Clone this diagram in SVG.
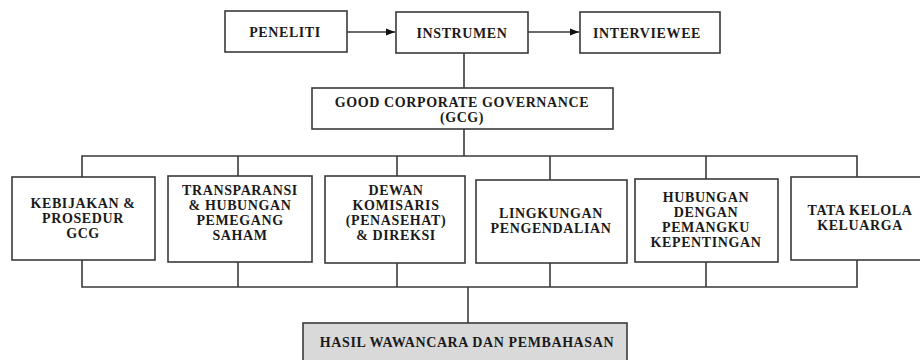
<svg xmlns="http://www.w3.org/2000/svg" width="920" height="360" viewBox="0 0 920 360">
<defs>
<style>
.box{fill:#fff;stroke:#3a3a3a;stroke-width:1.6}
.gray{fill:#d9d9d9}
.ln{fill:none;stroke:#3a3a3a;stroke-width:1.6}
text{font-family:'Liberation Serif','Times New Roman',serif;font-weight:bold;font-size:14px;fill:#1a1a1a;text-anchor:middle;letter-spacing:0.6px}
</style>
<marker id="arr" viewBox="0 0 10 10" refX="10" refY="5" markerWidth="9" markerHeight="9" markerUnits="userSpaceOnUse" orient="auto">
<path d="M0,1 L10,5 L0,9 Z" fill="#111"/>
</marker>
</defs>
<rect width="920" height="360" fill="#fff"/>
<g id="connectors">
<line class="ln" x1="347" y1="32" x2="395" y2="32" marker-end="url(#arr)"/>
<line class="ln" x1="528" y1="32" x2="579" y2="32" marker-end="url(#arr)"/>
<line class="ln" x1="464" y1="53" x2="464" y2="88"/>
<line class="ln" x1="464" y1="129" x2="464" y2="156"/>
<polyline class="ln" points="82,177 82,156 857,156 857,177"/>
<line class="ln" x1="238" y1="156" x2="238" y2="176"/>
<line class="ln" x1="397" y1="156" x2="397" y2="176"/>
<line class="ln" x1="550" y1="156" x2="550" y2="180"/>
<line class="ln" x1="706" y1="156" x2="706" y2="179"/>
<polyline class="ln" points="82,260 82,287 857,287 857,260"/>
<line class="ln" x1="238" y1="262" x2="238" y2="287"/>
<line class="ln" x1="397" y1="263" x2="397" y2="287"/>
<line class="ln" x1="550" y1="263" x2="550" y2="287"/>
<line class="ln" x1="706" y1="262" x2="706" y2="287"/>
<line class="ln" x1="468" y1="287" x2="468" y2="323"/>
</g>
<g id="peneliti"><rect class="box" x="225" y="11" width="122" height="41"/><text x="285" y="37">PENELITI</text></g>
<g id="instrumen"><rect class="box" x="396" y="12" width="132" height="41"/><text x="462" y="38">INSTRUMEN</text></g>
<g id="interviewee"><rect class="box" x="580" y="12" width="140" height="41"/><text x="647" y="38">INTERVIEWEE</text></g>
<g id="gcg"><rect class="box" x="312" y="88" width="301" height="41"/><text x="462" y="107">GOOD CORPORATE GOVERNANCE</text><text x="462" y="122">(GCG)</text></g>
<g id="kebijakan"><rect class="box" x="12" y="177" width="143" height="83"/><text x="83" y="208">KEBIJAKAN &amp;</text><text x="83" y="223">PROSEDUR</text><text x="83" y="238">GCG</text></g>
<g id="transparansi"><rect class="box" x="168" y="176" width="144" height="86"/><text x="240" y="195">TRANSPARANSI</text><text x="240" y="210">&amp; HUBUNGAN</text><text x="240" y="225">PEMEGANG</text><text x="240" y="240">SAHAM</text></g>
<g id="dewan"><rect class="box" x="325" y="176" width="140" height="87"/><text x="396" y="195">DEWAN</text><text x="396" y="210">KOMISARIS</text><text x="396" y="225">(PENASEHAT)</text><text x="396" y="240">&amp; DIREKSI</text></g>
<g id="lingkungan"><rect class="box" x="476" y="180" width="151" height="83"/><text x="551" y="218">LINGKUNGAN</text><text x="551" y="233">PENGENDALIAN</text></g>
<g id="hubungan"><rect class="box" x="635" y="179" width="143" height="83"/><text x="706" y="202">HUBUNGAN</text><text x="706" y="217">DENGAN</text><text x="706" y="232">PEMANGKU</text><text x="706" y="247">KEPENTINGAN</text></g>
<g id="tatakelola"><rect class="box" x="791" y="177" width="140" height="83"/><text x="860" y="215">TATA KELOLA</text><text x="860" y="230">KELUARGA</text></g>
<g id="hasil"><rect class="box gray" x="303" y="323" width="324" height="45"/><text x="467" y="347">HASIL WAWANCARA DAN PEMBAHASAN</text></g>
</svg>
